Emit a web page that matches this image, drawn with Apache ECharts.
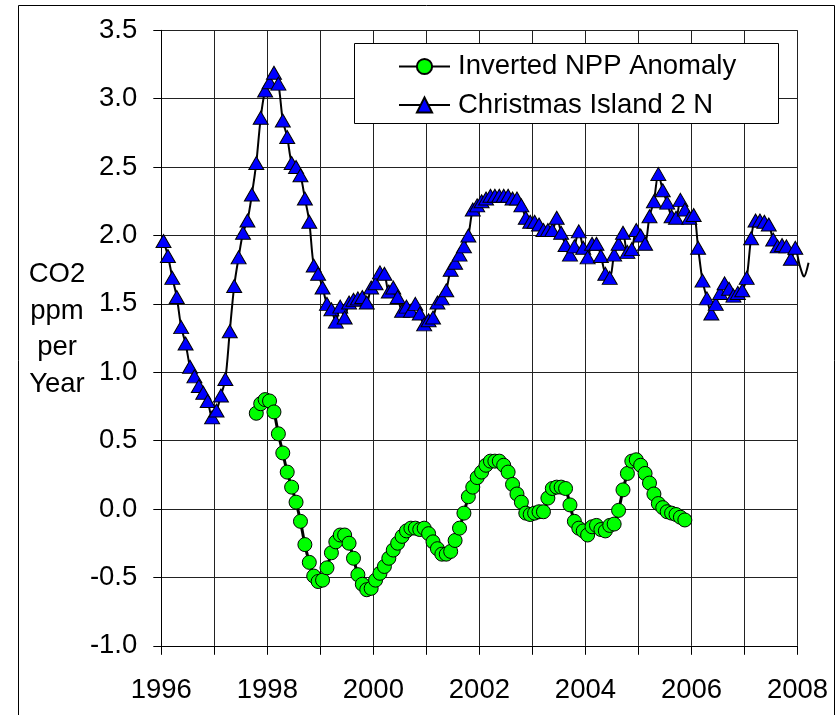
<!DOCTYPE html>
<html>
<head>
<meta charset="utf-8">
<script src="https://cdn.jsdelivr.net/npm/echarts@6/dist/echarts.min.js"></script>
<style>
  html, body { margin: 0; padding: 0; background: #ffffff; }
  #chart { width: 839px; height: 715px; }
</style>
</head>
<body>
<div id="chart"></div>
<script>
// Monthly series, first value is January of START_YEAR; x = year + (month + 0.5) / 12
const START_YEAR = 1996;
const X_MIN = 1996, X_MAX = 2008;
const Y_MIN = -1.0, Y_MAX = 3.5, Y_STEP = 0.5;

const seriesNames = ['Inverted NPP Anomaly', 'Christmas Island 2 N'];

// Christmas Island 2 N, CO2 growth rate (ppm per year), Jan 1996 onward
const christmasIsland = [
  1.96, 1.85, 1.69, 1.55, 1.33, 1.21, 1.04, 0.97, 0.90, 0.85, 0.79, 0.67,   // 1996
  0.72, 0.83, 0.95, 1.30, 1.63, 1.84, 2.02, 2.11, 2.30, 2.53, 2.86, 3.06,   // 1997
  3.12, 3.19, 3.11, 2.84, 2.72, 2.53, 2.50, 2.44, 2.27, 2.10, 1.78, 1.72,   // 1998
  1.62, 1.50, 1.46, 1.37, 1.48, 1.40, 1.51, 1.53, 1.54, 1.55, 1.51, 1.62,   // 1999
  1.65, 1.73, 1.72, 1.59, 1.62, 1.55, 1.45, 1.48, 1.45, 1.50, 1.43, 1.35,   // 2000
  1.38, 1.40, 1.51, 1.54, 1.60, 1.75, 1.80, 1.86, 1.92, 2.00, 2.19, 2.22,   // 2001
  2.25, 2.27, 2.29, 2.29, 2.29, 2.29, 2.29, 2.27, 2.27, 2.22, 2.13, 2.10,   // 2002
  2.10, 2.08, 2.04, 2.04, 2.04, 2.13, 2.02, 1.93, 1.86, 1.92, 2.03, 1.91,   // 2003
  1.84, 1.94, 1.94, 1.85, 1.72, 1.69, 1.86, 1.94, 2.02, 1.88, 1.90, 2.04,   // 2004
  2.00, 1.94, 2.14, 2.25, 2.45, 2.33, 2.24, 2.14, 2.13, 2.26, 2.19, 2.13,   // 2005
  2.15, 1.91, 1.67, 1.54, 1.43, 1.50, 1.58, 1.65, 1.61, 1.56, 1.58, 1.60,   // 2006
  1.69, 1.98, 2.11, 2.11, 2.10, 2.08, 1.97, 1.92, 1.93, 1.92, 1.83, 1.91,   // 2007
  1.78, 1.70, 1.80                                                          // 2008
];

// Inverted NPP anomaly, monthly, starting October 1997
const NPP_START_MONTH = 21;
const nppInverted = [
  0.70, 0.77, 0.80,                                                         // 1997
  0.79, 0.71, 0.55, 0.41, 0.27, 0.16, 0.05, -0.09, -0.26, -0.39, -0.49, -0.53, // 1998
  -0.52, -0.43, -0.32, -0.24, -0.19, -0.19, -0.25, -0.36, -0.48, -0.55, -0.59, -0.58, // 1999
  -0.52, -0.47, -0.42, -0.36, -0.30, -0.25, -0.20, -0.16, -0.14, -0.14, -0.15, -0.14, // 2000
  -0.18, -0.24, -0.29, -0.33, -0.33, -0.31, -0.23, -0.14, -0.03, 0.09, 0.16, 0.23,   // 2001
  0.27, 0.32, 0.35, 0.35, 0.35, 0.32, 0.27, 0.18, 0.11, 0.05, -0.03, -0.04,          // 2002
  -0.03, -0.02, -0.02, 0.08, 0.15, 0.16, 0.16, 0.15, 0.03, -0.09, -0.14, -0.16,      // 2003
  -0.19, -0.13, -0.12, -0.15, -0.16, -0.12, -0.11, -0.01, 0.14, 0.26, 0.35, 0.36,    // 2004
  0.32, 0.26, 0.19, 0.11, 0.04, 0.01, -0.02, -0.03, -0.04, -0.06, -0.08              // 2005
];

const monthToYear = (m) => START_YEAR + (m + 0.5) / 12;

const christmasPoints = christmasIsland.map((v, i) => [monthToYear(i), v]);
// markers only inside the axis range; the trace itself runs on a little past 2008
const christmasInside = christmasPoints.filter((p) => p[0] <= X_MAX);
const christmasTail = christmasPoints.slice(christmasInside.length - 2);
const nppData = nppInverted.map((v, i) => [monthToYear(NPP_START_MONTH + i), v]);

const FONT = '"Liberation Sans", Arial, sans-serif';
const FS = 27.5;
const SMOOTH = 0.3;

const chart = echarts.init(document.getElementById('chart'), null, { renderer: 'canvas' });

chart.setOption({
  animation: false,
  backgroundColor: '#ffffff',
  grid: { left: 161.3, right: 41.5, top: 30.3, bottom: 69.2, containLabel: false },
  xAxis: {
    type: 'value',
    min: X_MIN, max: X_MAX, interval: 1,
    axisLine: { show: true, onZero: false, lineStyle: { color: '#000', width: 1 } },
    axisTick: { show: true, length: 9, lineStyle: { color: '#000', width: 1 } },
    splitLine: { show: true, lineStyle: { color: '#222', width: 1 } },
    axisLabel: {
      margin: 31,
      fontFamily: FONT, fontSize: FS, color: '#000',
      formatter: (v) => (Math.round(v) % 2 === 0 ? String(Math.round(v)) : '')
    }
  },
  yAxis: {
    type: 'value',
    min: Y_MIN, max: Y_MAX, interval: Y_STEP,
    axisLine: { show: true, onZero: false, lineStyle: { color: '#000', width: 1 } },
    axisTick: { show: true, length: 8, lineStyle: { color: '#000', width: 1 } },
    splitLine: { show: true, lineStyle: { color: '#222', width: 1 } },
    axisLabel: {
      margin: 24,
      fontFamily: FONT, fontSize: FS, color: '#000',
      formatter: (v) => v.toFixed(1)
    }
  },
  legend: [
    {
      data: [seriesNames[0]],
      left: 398, top: 52.5, padding: 0, z: 6,
      itemWidth: 51, itemHeight: 19,
      textStyle: { fontFamily: FONT, fontSize: FS, color: '#000', lineHeight: 28, padding: [0, 0, 0, 3] }
    },
    {
      data: [seriesNames[1]],
      left: 398, top: 91, padding: 0, z: 6,
      itemWidth: 51, itemHeight: 19,
      textStyle: { fontFamily: FONT, fontSize: FS, color: '#000', lineHeight: 28, padding: [0, 0, 0, 3] }
    }
  ],
  graphic: [
    {
      id: 'legendBox', type: 'rect', z: 3,
      shape: { x: 354.5, y: 43.5, width: 424, height: 80 },
      style: { fill: '#ffffff', stroke: '#000', lineWidth: 1 }
    },
    {
      id: 'frame', type: 'rect', z: 3,
      shape: { x: 18.5, y: 5.5, width: 816, height: 800 },
      style: { fill: 'none', stroke: '#000', lineWidth: 1 }
    },
    {
      id: 'yTitle', type: 'text', z: 3, x: 57, y: 329.5,
      style: {
        text: 'CO2\nppm\nper\nYear',
        font: FS + 'px ' + FONT,
        fill: '#000', align: 'center', verticalAlign: 'middle', lineHeight: 36.5
      }
    }
  ],
  series: [
    {
      name: seriesNames[1],
      type: 'line',
      data: christmasInside,
      smooth: SMOOTH,
      symbol: 'triangle',
      symbolSize: [15, 13],
      showAllSymbol: true,
      lineStyle: { color: '#000', width: 2 },
      itemStyle: { color: '#0000ff', borderColor: '#000', borderWidth: 1 },
      emphasis: { disabled: true },
      z: 2
    },
    {
      name: seriesNames[0],
      type: 'line',
      data: nppData,
      smooth: SMOOTH,
      symbol: 'circle',
      symbolSize: 14,
      showAllSymbol: true,
      lineStyle: { color: '#000', width: 3 },
      itemStyle: { color: '#00ff00', borderColor: '#000', borderWidth: 1 },
      emphasis: { disabled: true },
      z: 2
    }
  ]
});

// The Christmas Island trace continues a little past the 2008 axis end.
// Its pixel positions come from the chart's own x/y scales.
const tailPixels = christmasTail.map((p) => chart.convertToPixel({ gridIndex: 0 }, p));
chart.setOption({
  graphic: [
    {
      id: 'christmasTail', type: 'polyline', z: 1,
      shape: { points: tailPixels, smooth: SMOOTH },
      style: { stroke: '#000', lineWidth: 2, fill: null }
    }
  ]
});
</script>
</body>
</html>
